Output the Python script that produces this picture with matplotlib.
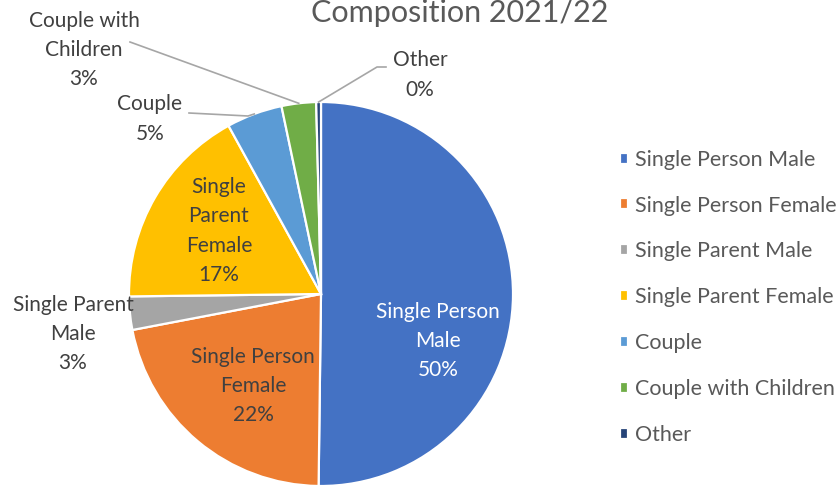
import numpy as np
import matplotlib.pyplot as plt

plt.rcParams['font.family'] = ['Lato', 'DejaVu Sans']

categories = ["Single Person Male", "Single Person Female", "Single Parent Male",
              "Single Parent Female", "Couple", "Couple with Children", "Other"]
label_text = ["Single Person\nMale", "Single Person\nFemale", "Single Parent\nMale",
              "Single\nParent\nFemale", "Couple", "Couple with\nChildren", "Other"]
shares = [50.2, 21.8, 2.8, 17.2, 4.7, 2.9, 0.4]
colors = ['#4472C4', '#ED7D31', '#A5A5A5', '#FFC000', '#5B9BD5', '#70AD47', '#264478']
title = "Composition 2021/22"

W, H = 840, 487
fig = plt.figure(figsize=(W / 100, H / 100), dpi=100)

# pie box in pixels: center (321, 294), radius 192
cx, cy, r = 321, 294, 192
ax = fig.add_axes([(cx - r) / W, (H - cy - r) / H, 2 * r / W, 2 * r / H])


def p2d(px, py):
    return (px - cx) / r, (cy - py) / r


wedges, _ = ax.pie(shares, colors=colors, startangle=90, counterclock=False,
                   radius=1, wedgeprops=dict(edgecolor='white', linewidth=1.6))
ax.set_xlim(-1, 1)
ax.set_ylim(-1, 1)
ax.set_aspect('equal')
ax.axis('off')

txt_col = '#404040'
fs = 15
labels = [f"{t}\n{round(v)}%" for t, v in zip(label_text, shares)]

# label positions (pixels) and text colour
pos = [(438, 341, 'white'), (253, 386, txt_col), (73, 334, txt_col),
       (219, 231, txt_col), (150, 119, txt_col), (84, 50, txt_col),
       (420, 75, txt_col)]
for lab, (px, py, c) in zip(labels, pos):
    x, y = p2d(px, py)
    ax.text(x, y, lab, ha='center', va='center', color=c, fontsize=fs,
            linespacing=1.57, clip_on=False)

# leader lines to wedge mid-points
cum = np.cumsum(shares)
mids = cum - np.array(shares) / 2
def edge(i):
    ang = np.deg2rad(90 - mids[i] / 100 * 360)
    return np.cos(ang), np.sin(ang)

leaders = {4: [(189, 113), (248, 116)], 5: [(130, 42)], 6: [(386, 67), (377, 67)]}
for i, pts in leaders.items():
    xy = [p2d(*p) for p in pts] + [edge(i)]
    xs, ys = zip(*xy)
    ax.plot(xs, ys, color='#A6A6A6', lw=1.2, clip_on=False)

fig.text(460 / W, 1 - 22 / H, title, ha='center', va='baseline',
         fontsize=22, color='#595959')

fig.legend(wedges, categories, loc='upper left', bbox_to_anchor=(609 / W, 1 - 139 / H),
           frameon=False, fontsize=15.5, labelcolor='#595959',
           handlelength=0.4, handleheight=0.4, handletextpad=0.3,
           labelspacing=1.2, borderpad=0)

fig.savefig('out.png', dpi=100)
